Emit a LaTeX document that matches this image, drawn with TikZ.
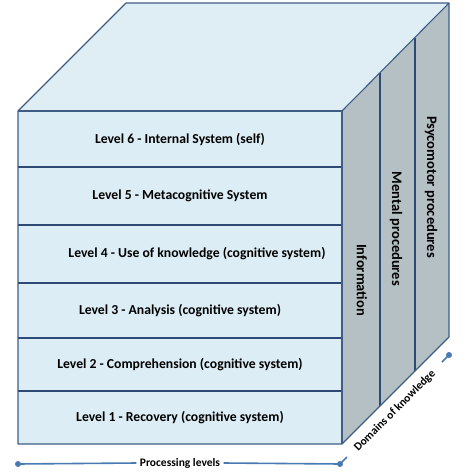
\documentclass[tikz,border=0pt]{standalone}
\usepackage{fontspec}
\setmainfont{Carlito}
\begin{document}
\begin{tikzpicture}[x=1pt,y=-1pt,
  edge/.style={draw=edgecol,line width=1.1pt,line join=round},
  sep/.style={draw=sepcol,line width=1.8pt},
  lvl/.style={font=\bfseries\fontsize{13.7}{15}\selectfont,text=black},
  dom/.style={font=\bfseries\fontsize{14.5}{16}\selectfont,text=black,rotate=-90},
  axis/.style={draw=axcol,line width=1.6pt},
  axlab/.style={font=\bfseries\fontsize{11.5}{13}\selectfont,text=black},
  dot/.style={circle,fill=axcol,inner sep=0pt,minimum size=6pt}]
\definecolor{frontcol}{HTML}{DCEDF5}
\definecolor{topcol}{HTML}{DFEEF5}
\definecolor{sidecol}{HTML}{B5C0C5}
\definecolor{edgecol}{HTML}{3E5C85}
\definecolor{sepcol}{HTML}{2C4A75}
\definecolor{axcol}{HTML}{4A7AB4}
\useasboundingbox (0,0) rectangle (468,472);
% faces
\coordinate (FTL) at (18,111);
\coordinate (FTR) at (342,111);
\coordinate (FBL) at (18,444);
\coordinate (FBR) at (342,444);
\coordinate (BTL) at (126,3);
\coordinate (BTR) at (449,3);
\coordinate (BBR) at (449,337);
\fill[topcol] (FTL) -- (BTL) -- (BTR) -- (FTR) -- cycle;
\fill[sidecol] (FTR) -- (BTR) -- (BBR) -- (FBR) -- cycle;
\fill[frontcol] (FTL) rectangle (FBR);
% level separators
\foreach \y in {167,225,283,338,391} {
  \draw[sep] (18,\y) -- (342,\y);
}
% side dividers
\coordinate (D1t) at (380,73);
\coordinate (D1b) at (380,406);
\coordinate (D2t) at (415,38);
\coordinate (D2b) at (415,371);
\draw[sep] (D1t) -- (D1b);
\draw[sep] (D2t) -- (D2b);
% edges
\draw[edge] (FTL) -- (BTL) -- (BTR) -- (BBR) -- (FBR) -- (FBL) -- cycle;
\draw[edge] (FTL) -- (FTR) -- (FBR);
\draw[edge] (FTR) -- (BTR);
% level labels
\node[lvl] (l6) at (180,139) {Level 6 - Internal System (self)};
\node[lvl] (l5) at (180,196) {Level 5 - Metacognitive System};
\node[lvl] (l4) at (197,254) {Level 4 - Use of knowledge (cognitive system)};
\node[lvl] (l3) at (180,310.5) {Level 3 - Analysis (cognitive system)};
\node[lvl] (l2) at (180,364.5) {Level 2 - Comprehension (cognitive system)};
\node[lvl] (l1) at (180,417.5) {Level 1 - Recovery (cognitive system)};
% domain labels
\node[dom] (dinfo) at (362,280) {Information};
\node[dom] (dment) at (396,229) {Mental procedures};
\node[dom] (dpsy) at (431,187) {Psycomotor procedures};
% processing levels axis
\node[dot] (pl) at (18,464) {};
\node[dot] (pr) at (340,464) {};
\node[axlab] (plab) at (180,463) {Processing levels};
\draw[axis] (pl.center) -- (plab.west);
\draw[axis] (plab.east) -- (pr.center);
\coordinate (prt) at (347,457);
\draw[axis] (pr.center) -- (prt);
% domains axis
\node[dot] (dr) at (449,355) {};
\coordinate (drt) at (442,362);
\draw[axis] (dr.center) -- (drt);
\node[axlab,rotate=45] (dlab) at (395,411) {Domains of knowledge};
\end{tikzpicture}
\end{document}
